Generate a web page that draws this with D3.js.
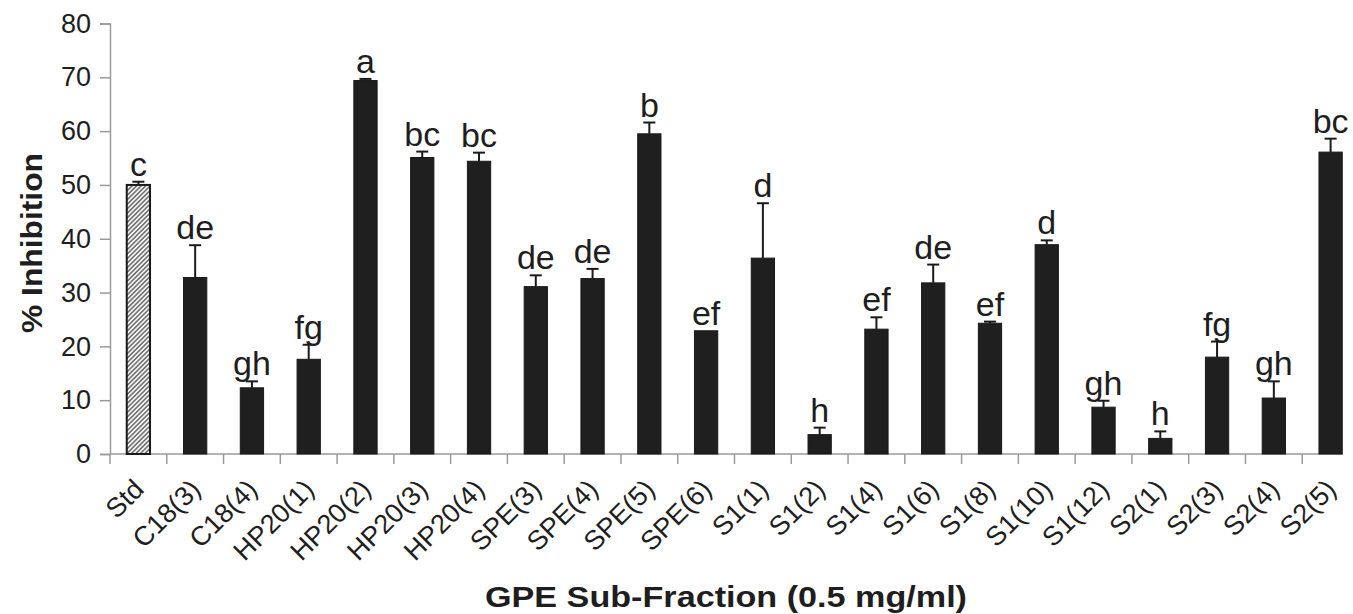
<!DOCTYPE html>
<html>
<head>
<meta charset="utf-8">
<script src="https://cdn.jsdelivr.net/npm/d3@7/dist/d3.min.js"></script>
<style>
body { margin: 0; background: #fff; }
svg { display: block; }
</style>
</head>
<body>
<svg width="1353" height="614"></svg>
<script>
// sub-fractions on the x axis
var categories = ["Std", "C18(3)", "C18(4)", "HP20(1)", "HP20(2)", "HP20(3)", "HP20(4)",
  "SPE(3)", "SPE(4)", "SPE(5)", "SPE(6)", "S1(1)", "S1(2)", "S1(4)", "S1(6)", "S1(8)",
  "S1(10)", "S1(12)", "S2(1)", "S2(3)", "S2(4)", "S2(5)"];
// % inhibition (mean)
var values = [50.0, 32.8, 12.3, 17.6, 69.4, 55.1, 54.4, 31.1, 32.6, 59.5, 22.9, 36.4,
  3.6, 23.2, 31.8, 24.3, 38.9, 8.7, 2.9, 18.0, 10.4, 56.1];
// upper error (sd)
var errors = [0.6, 6.0, 1.2, 2.7, 0.3, 1.1, 1.6, 2.1, 1.8, 2.1, 0.0, 10.2,
  1.3, 2.2, 3.4, 0.3, 0.8, 1.2, 1.3, 2.9, 3.1, 2.5];
// significance letters
var letters = ["c", "de", "gh", "fg", "a", "bc", "bc", "de", "de", "b", "ef", "d",
  "h", "ef", "de", "ef", "d", "gh", "h", "fg", "gh", "bc"];
var yTicks = [0, 10, 20, 30, 40, 50, 60, 70, 80];

var svg = d3.select("svg");
var axisColor = "#9a9a9a";
var textColor = "#1e1e1e";
var font = "'Liberation Sans', Arial, sans-serif";

var x = d3.scaleBand()
  .domain(categories)
  .range([110, 1359])
  .padding(0);

var y = d3.scaleLinear()
  .domain([0, 80])
  .range([454, 23.5]);

var barW = x.bandwidth() * 0.41;

// hatch for the standard
var defs = svg.append("defs");
var pat = defs.append("pattern")
  .attr("id", "hatch")
  .attr("patternUnits", "userSpaceOnUse")
  .attr("width", 3.2)
  .attr("height", 3.2)
  .attr("patternTransform", "rotate(45)");
pat.append("rect").attr("width", 3.2).attr("height", 3.2).attr("fill", "#f4f4f4");
pat.append("line")
  .attr("x1", 0.8).attr("y1", 0).attr("x2", 0.8).attr("y2", 3.2)
  .attr("stroke", "#3a3a3a").attr("stroke-width", 1.1);

// y axis
var yAxis = d3.axisLeft(y)
  .tickValues(yTicks)
  .tickSize(10)
  .tickPadding(9);

var gy = svg.append("g").attr("transform", "translate(110,0)").call(yAxis);
gy.select(".domain").attr("stroke", axisColor).attr("stroke-width", 1.5);
gy.selectAll(".tick line").attr("stroke", axisColor).attr("stroke-width", 1.5);
gy.selectAll(".tick text")
  .attr("font-family", font)
  .attr("font-size", "27px")
  .attr("fill", textColor);

// x axis : line + ticks between categories
var gx = svg.append("g");
gx.append("line")
  .attr("x1", 110).attr("x2", 1343)
  .attr("y1", y(0)).attr("y2", y(0))
  .attr("stroke", axisColor).attr("stroke-width", 1.5);

gx.selectAll(".xtick")
  .data(categories)
  .enter()
  .append("line")
  .attr("class", "xtick")
  .attr("x1", function(d) { return x(d); })
  .attr("x2", function(d) { return x(d); })
  .attr("y1", y(0))
  .attr("y2", y(0) + 10)
  .attr("stroke", axisColor)
  .attr("stroke-width", 1.5);

gx.selectAll(".xlabel")
  .data(categories)
  .enter()
  .append("text")
  .attr("class", "xlabel")
  .attr("transform", function(d) {
    return "translate(" + (x(d) + x.bandwidth() / 2 + 7) + "," + 491 + ") rotate(-45)";
  })
  .attr("text-anchor", "end")
  .attr("font-family", font)
  .attr("font-size", "27px")
  .attr("fill", textColor)
  .text(function(d) { return d; });

// bars
svg.append("g")
  .selectAll("rect")
  .data(categories)
  .enter()
  .append("rect")
  .attr("x", function(d) { return x(d) + x.bandwidth() / 2 - barW / 2; })
  .attr("y", function(d, i) { return y(values[i]); })
  .attr("width", barW)
  .attr("height", function(d, i) { return y(0) - y(values[i]); })
  .attr("fill", function(d, i) { return i == 0 ? "url(#hatch)" : "#1f1f1f"; })
  .attr("stroke", "#1a1a1a")
  .attr("stroke-width", function(d, i) { return i == 0 ? 2 : 1; });

// error bars (upper only)
var eb = svg.append("g")
  .selectAll("g")
  .data(categories)
  .enter()
  .append("g")
  .filter(function(d, i) { return errors[i] > 0.05; });

eb.append("line")
  .attr("x1", function(d) { return x(d) + x.bandwidth() / 2; })
  .attr("x2", function(d) { return x(d) + x.bandwidth() / 2; })
  .attr("y1", function(d) { return y(values[categories.indexOf(d)]); })
  .attr("y2", function(d) { var i = categories.indexOf(d); return y(values[i] + errors[i]); })
  .attr("stroke", "#1a1a1a")
  .attr("stroke-width", 2);

eb.append("line")
  .attr("x1", function(d) { return x(d) + x.bandwidth() / 2 - 6; })
  .attr("x2", function(d) { return x(d) + x.bandwidth() / 2 + 6; })
  .attr("y1", function(d) { var i = categories.indexOf(d); return y(values[i] + errors[i]); })
  .attr("y2", function(d) { var i = categories.indexOf(d); return y(values[i] + errors[i]); })
  .attr("stroke", "#1a1a1a")
  .attr("stroke-width", 2);

// letters
svg.append("g")
  .selectAll("text")
  .data(categories)
  .enter()
  .append("text")
  .attr("x", function(d) { return x(d) + x.bandwidth() / 2; })
  .attr("y", function(d, i) { return y(values[i] + errors[i]) - 6; })
  .attr("text-anchor", "middle")
  .attr("font-family", font)
  .attr("font-size", "34px")
  .attr("fill", textColor)
  .text(function(d, i) { return letters[i]; });

// axis titles
svg.append("text")
  .attr("transform", "translate(42,243) rotate(-90)")
  .attr("text-anchor", "middle")
  .attr("font-family", font)
  .attr("font-size", "30px")
  .attr("font-weight", "bold")
  .attr("fill", textColor)
  .attr("textLength", 180)
  .attr("lengthAdjust", "spacingAndGlyphs")
  .text("% Inhibition");

svg.append("text")
  .attr("x", 726)
  .attr("y", 607)
  .attr("text-anchor", "middle")
  .attr("font-family", font)
  .attr("font-size", "29px")
  .attr("font-weight", "bold")
  .attr("fill", textColor)
  .attr("textLength", 482)
  .attr("lengthAdjust", "spacingAndGlyphs")
  .text("GPE Sub-Fraction (0.5 mg/ml)");
</script>
</body>
</html>
